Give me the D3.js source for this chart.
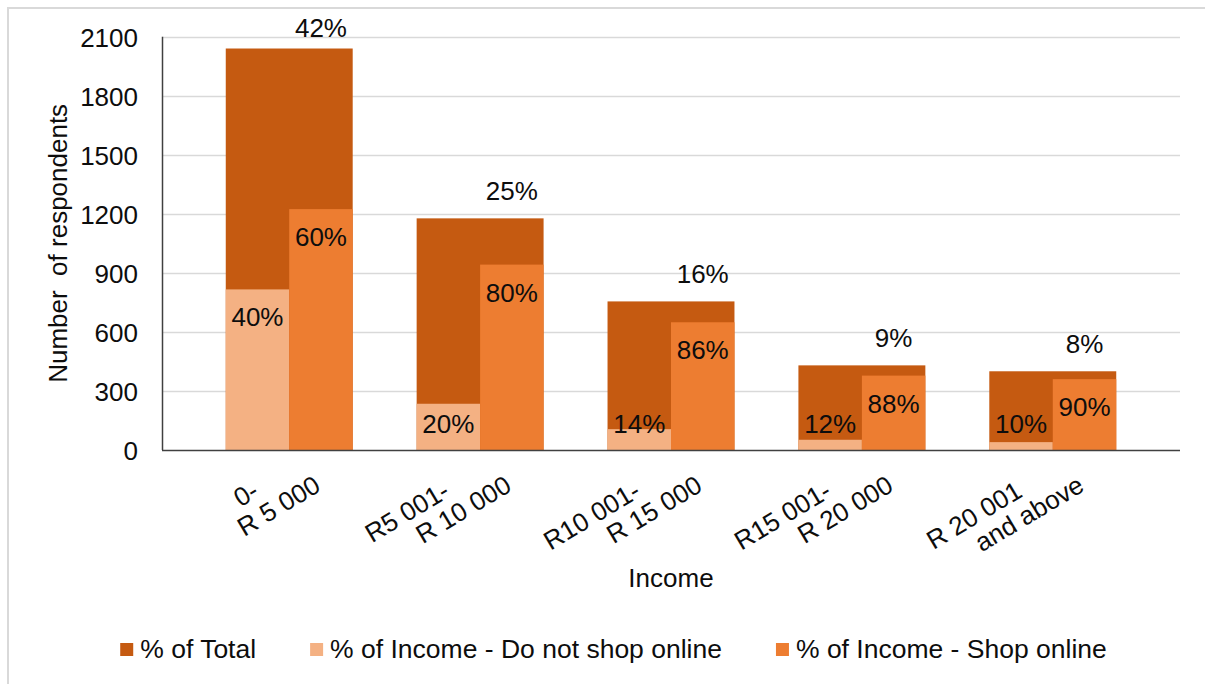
<!DOCTYPE html>
<html>
<head>
<meta charset="utf-8">
<script src="https://cdn.jsdelivr.net/npm/d3@7"></script>
<style>
  html, body { margin: 0; padding: 0; background: #fff; }
  svg { display: block; font-family: "Liberation Sans", Arial, sans-serif; }
  text { fill: #0d0d0d; white-space: pre; }
</style>
</head>
<body>
<svg id="chart" width="1205" height="684"></svg>
<script>
// Income brackets (two-line tick labels)
const categories = [
  ["0-", "R 5 000"],
  ["R5 001-", "R 10 000"],
  ["R10 001-", "R 15 000"],
  ["R15 001-", "R 20 000"],
  ["R 20 001", "and above"]
];
// Number of respondents per bracket
const totals      = [2040, 1177, 755, 430, 400];
const doNotShop   = [816, 235, 106, 52, 40];
const shopOnline  = [1224, 942, 649, 378, 360];
// Percentage labels
const totalPct    = ["42%", "25%", "16%", "9%", "8%"];
const doNotPct    = ["40%", "20%", "14%", "12%", "10%"];
const shopPct     = ["60%", "80%", "86%", "88%", "90%"];
const yTicks      = [0, 300, 600, 900, 1200, 1500, 1800, 2100];
const seriesNames = ["% of Total", "% of Income - Do not shop online", "% of Income - Shop online"];
const colors      = ["#C55A11", "#F4B183", "#ED7D31"];

const svg = d3.select("#chart");
const FS = 26;
const LFS = 26.5;

// Outer chart frame
svg.append("rect")
  .attr("x", 8).attr("y", 8).attr("width", 1230).attr("height", 700)
  .attr("fill", "none").attr("stroke", "#d9d9d9").attr("stroke-width", 2);

const plot = { left: 162, right: 1180, top: 36.7, bottom: 450 };

const keys = categories.map(c => c.join(" "));
const x = d3.scaleBand().domain(keys)
  .range([plot.left, plot.right])
  .paddingInner(0.335).paddingOuter(0.334);
const sub = d3.scaleBand().domain(["doNot", "shop"]).range([0, x.bandwidth()]);
const y = d3.scaleLinear().domain([0, 2100]).range([plot.bottom, plot.top]);

// Gridlines
svg.append("g").selectAll("line").data(yTicks.filter(t => t > 0)).join("line")
  .attr("x1", plot.left).attr("x2", plot.right)
  .attr("y1", d => Math.round(y(d)) + 0.5).attr("y2", d => Math.round(y(d)) + 0.5)
  .attr("stroke", "#d9d9d9").attr("stroke-width", 1.5);

// Y axis tick labels
const yAxis = d3.axisLeft(y).tickValues(yTicks).tickSize(0).tickPadding(24).tickFormat(d3.format("d"));
const gy = svg.append("g").attr("transform", `translate(${plot.left},0)`).call(yAxis);
gy.select(".domain").remove();
gy.selectAll("text").attr("font-size", FS).attr("font-family", "Liberation Sans, Arial, sans-serif")
  .attr("fill", "#0d0d0d").attr("dy", "0.36em");

// Total bars (full width)
svg.append("g").selectAll("rect").data(totals).join("rect")
  .attr("x", (d, i) => x(keys[i]))
  .attr("width", x.bandwidth())
  .attr("y", d => y(d))
  .attr("height", d => y(0) - y(d))
  .attr("fill", colors[0]);

// Do not shop online (left half)
svg.append("g").selectAll("rect").data(doNotShop).join("rect")
  .attr("x", (d, i) => x(keys[i]) + sub("doNot"))
  .attr("width", sub.bandwidth())
  .attr("y", d => y(d))
  .attr("height", d => y(0) - y(d))
  .attr("fill", colors[1]);

// Shop online (right half)
svg.append("g").selectAll("rect").data(shopOnline).join("rect")
  .attr("x", (d, i) => x(keys[i]) + sub("shop"))
  .attr("width", sub.bandwidth())
  .attr("y", d => y(d))
  .attr("height", d => y(0) - y(d))
  .attr("fill", colors[2]);

// Axis lines
svg.append("line").attr("x1", plot.left + 0.5).attr("x2", plot.left + 0.5)
  .attr("y1", plot.top).attr("y2", plot.bottom).attr("stroke", "#404040").attr("stroke-width", 1.5);
svg.append("line").attr("x1", plot.left).attr("x2", plot.right)
  .attr("y1", plot.bottom + 0.5).attr("y2", plot.bottom + 0.5).attr("stroke", "#404040").attr("stroke-width", 1.5);

// Labels inside bars
const inLabelY = v => Math.min(y(v) + 37, plot.bottom - 17.5);
svg.append("g").selectAll("text").data(doNotShop).join("text")
  .attr("x", (d, i) => x(keys[i]) + sub("doNot") + sub.bandwidth() / 2)
  .attr("y", d => inLabelY(d))
  .attr("text-anchor", "middle").attr("font-size", FS)
  .text((d, i) => doNotPct[i]);
svg.append("g").selectAll("text").data(shopOnline).join("text")
  .attr("x", (d, i) => x(keys[i]) + sub("shop") + sub.bandwidth() / 2)
  .attr("y", d => inLabelY(d))
  .attr("text-anchor", "middle").attr("font-size", FS)
  .text((d, i) => shopPct[i]);

// Share-of-total labels above the bars
svg.append("g").selectAll("text").data(totals).join("text")
  .attr("x", (d, i) => x(keys[i]) + sub("shop") + sub.bandwidth() / 2)
  .attr("y", d => Math.max(y(d) - 18, plot.top + 0.6))
  .attr("text-anchor", "middle").attr("font-size", FS)
  .text((d, i) => totalPct[i]);

// Rotated category labels
const catG = svg.append("g").selectAll("g").data(categories).join("g")
  .attr("transform", (d, i) => `translate(${x(keys[i]) + x.bandwidth() / 2 + 33},490) rotate(-31)`);
catG.append("text").attr("text-anchor", "end").attr("font-size", FS)
  .attr("x", -56).attr("y", -27).text(d => d[0]);
catG.append("text").attr("text-anchor", "end").attr("font-size", FS)
  .attr("x", 0).attr("y", 0).text(d => d[1]);

// Axis titles
svg.append("text").attr("x", (plot.left + plot.right) / 2).attr("y", 587)
  .attr("text-anchor", "middle").attr("font-size", FS).text("Income");
svg.append("text")
  .attr("transform", `translate(67,${(plot.top + plot.bottom) / 2}) rotate(-90)`)
  .attr("text-anchor", "middle").attr("font-size", FS).text("Number  of respondents");

// Legend
const legend = svg.append("g");
const items = legend.selectAll("g").data(seriesNames).join("g");
items.append("rect").attr("width", 13).attr("height", 13).attr("y", 643)
  .attr("fill", (d, i) => colors[i]);
items.append("text").attr("font-size", LFS).attr("y", 658).text(d => d);
const widths = [];
items.each(function () {
  widths.push(d3.select(this).select("text").node().getComputedTextLength());
});
const gapSq = 7, gapItem = 54, sq = 13;
const totalW = widths.reduce((a, w) => a + sq + gapSq + w, 0) + gapItem * (widths.length - 1);
let startX = 613.5 - totalW / 2;
items.each(function (d, i) {
  const g = d3.select(this);
  g.select("rect").attr("x", startX);
  g.select("text").attr("x", startX + sq + gapSq);
  startX += sq + gapSq + widths[i] + gapItem;
});
</script>
</body>
</html>
